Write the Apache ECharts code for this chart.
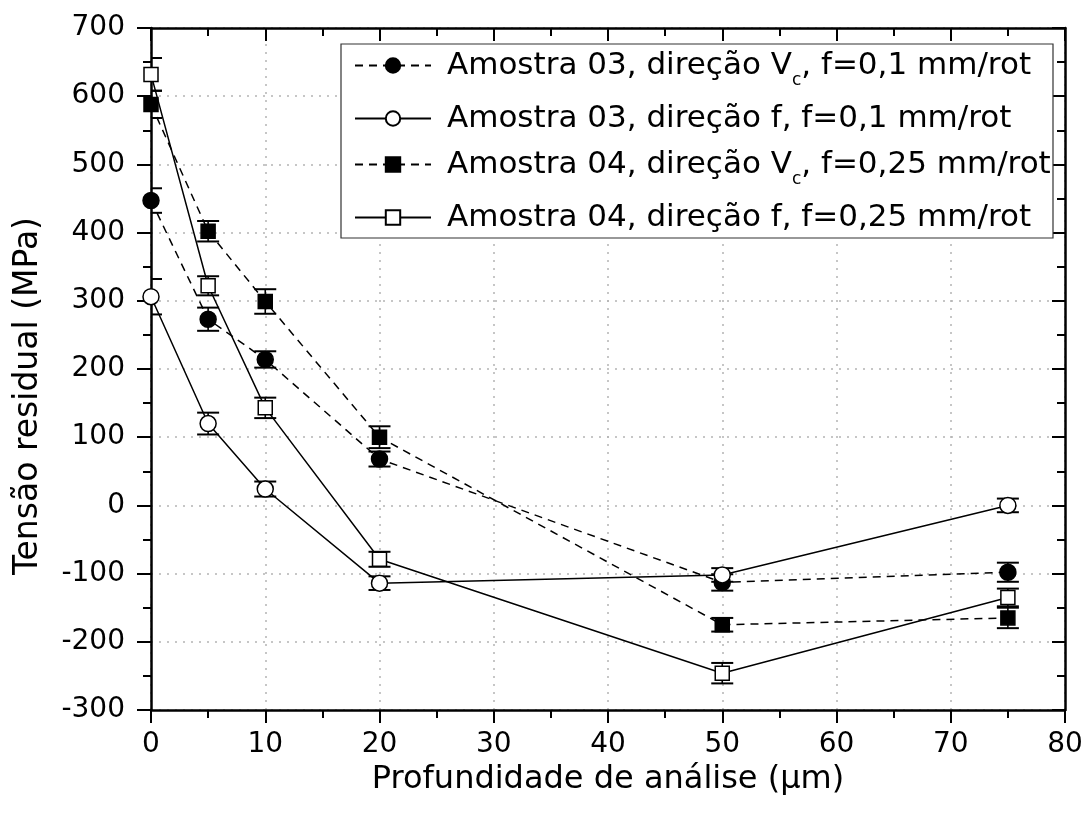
<!DOCTYPE html>
<html>
<head>
<meta charset="utf-8">
<script src="https://cdn.jsdelivr.net/npm/echarts@6/dist/echarts.min.js"></script>
<style>
  html, body { margin: 0; padding: 0; background: #fff; }
  #chart { width: 1091px; height: 823px; }
</style>
</head>
<body>
<div id="chart"></div>
<script>
// Depth below the machined surface (µm)
const depth = [0, 5, 10, 20, 50, 75];

// Residual stress (MPa) and error half-widths for each measurement set
const a03Vc = [447, 273, 214, 68, -113, -98];
const a03VcErr = [18, 17, 12, 11, 12, 14];
const a03f = [306, 120, 24, -114, -102, 0];
const a03fErr = [26, 16, 11, 10, 10, 10];
const a04Vc = [588, 402, 299, 100, -175, -165];
const a04VcErr = [20, 15, 18, 16, 10, 15];
const a04f = [632, 322, 143, -79, -246, -135];
const a04fErr = [24, 14, 15, 11, 15, 13];

const names = [
  'Amostra 03, direção Vc, f=0,1 mm/rot',
  'Amostra 03, direção f, f=0,1 mm/rot',
  'Amostra 04, direção Vc, f=0,25 mm/rot',
  'Amostra 04, direção f, f=0,25 mm/rot'
];

const FONT = 'DejaVu Sans';
const chart = echarts.init(document.getElementById('chart'));

function errData(vals, errs) {
  return depth.map((x, i) => [x, vals[i] - errs[i], vals[i] + errs[i]]);
}

function errorBars(vals, errs) {
  return {
    type: 'custom',
    xAxisIndex: 0,
    yAxisIndex: 0,
    clip: true,
    silent: true,
    z: 1,
    encode: { x: 0, y: [1, 2] },
    data: errData(vals, errs),
    renderItem: function (params, api) {
      const x = api.value(0);
      const lo = api.coord([x, api.value(1)]);
      const hi = api.coord([x, api.value(2)]);
      const hw = 11;
      const st = { stroke: '#000', lineWidth: 1.6 };
      return {
        type: 'group',
        children: [
          { type: 'line', shape: { x1: lo[0], y1: lo[1], x2: hi[0], y2: hi[1] }, style: st },
          { type: 'line', shape: { x1: lo[0] - hw, y1: lo[1], x2: lo[0] + hw, y2: lo[1] }, style: { stroke: '#000', lineWidth: 2 } },
          { type: 'line', shape: { x1: hi[0] - hw, y1: hi[1], x2: hi[0] + hw, y2: hi[1] }, style: { stroke: '#000', lineWidth: 2 } }
        ]
      };
    }
  };
}

function lineSeries(name, vals, symbol, size, filled, dashed) {
  return {
    name: name,
    type: 'line',
    xAxisIndex: 0,
    yAxisIndex: 0,
    data: depth.map((x, i) => [x, vals[i]]),
    symbol: symbol,
    symbolSize: size,
    showAllSymbol: true,
    z: 3,
    lineStyle: { color: '#000', width: 1.5, type: dashed ? [8, 6] : 'solid' },
    itemStyle: {
      color: filled ? '#000' : '#fff',
      borderColor: '#000',
      borderWidth: 1.5
    },
    emphasis: { disabled: true },
    animation: false
  };
}

const legendRich = {
  sub: { fontFamily: FONT, fontSize: 17, color: '#000', padding: [30, 0, 0, 0] }
};
const legendTops = [50, 103, 149, 202];
const legends = names.map((n, i) => ({
  data: [n],
  left: 354,
  top: legendTops[i],
  padding: 0,
  itemWidth: 76,
  itemHeight: 18,
  selectedMode: false,
  z: 6,
  formatter: function (name) { return name.replace('Vc', 'V{sub|c}'); },
  textStyle: {
    fontFamily: FONT, fontSize: 31, color: '#000',
    padding: [0, 0, 0, 11],
    rich: legendRich
  }
}));

const axisLineStyle = { color: '#000', width: 2.5 };
const labelStyle = { fontFamily: FONT, fontSize: 28, color: '#000' };

chart.setOption({
  backgroundColor: '#fff',
  animation: false,
  grid: { left: 151, right: 26, top: 28, bottom: 113, outerBoundsMode: 'none' },
  legend: legends,
  graphic: [{
    type: 'rect',
    shape: { x: 341, y: 44, width: 712, height: 194 },
    style: { fill: '#fff', stroke: '#333', lineWidth: 1.2 },
    z: 5
  }],
  xAxis: [{
    type: 'value',
    position: 'bottom',
    min: 0, max: 80, interval: 10,
    name: 'Profundidade de análise (\u03bcm)',
    nameLocation: 'middle',
    nameGap: 52,
    nameTextStyle: { fontFamily: FONT, fontSize: 32, color: '#000' },
    axisLine: { onZero: false, lineStyle: axisLineStyle },
    axisTick: { show: true, inside: false, length: 13, lineStyle: { color: '#000', width: 2 } },
    minorTick: { show: true, splitNumber: 2, length: 8, lineStyle: { color: '#000', width: 2 } },
    axisLabel: Object.assign({ margin: 21 }, labelStyle),
    splitLine: { show: true, lineStyle: { color: '#b4b4b4', width: 1.5, type: [2, 6] } }
  }, {
    type: 'value',
    position: 'top',
    min: 0, max: 80, interval: 10,
    axisLine: { onZero: false, lineStyle: axisLineStyle },
    axisTick: { show: true, inside: true, length: 13, lineStyle: { color: '#000', width: 2 } },
    minorTick: { show: true, splitNumber: 2, length: 8, lineStyle: { color: '#000', width: 2 } },
    axisLabel: { show: false },
    splitLine: { show: false }
  }],
  yAxis: [{
    type: 'value',
    position: 'left',
    min: -300, max: 700, interval: 100,
    name: 'Tensão residual (MPa)',
    nameLocation: 'middle',
    nameGap: 106,
    nameTextStyle: { fontFamily: FONT, fontSize: 33, color: '#000', padding: [0, 54, 0, 0] },
    axisLine: { onZero: false, lineStyle: axisLineStyle },
    axisTick: { show: true, inside: false, length: 14, lineStyle: { color: '#000', width: 2 } },
    minorTick: { show: true, splitNumber: 2, length: 8, lineStyle: { color: '#000', width: 2 } },
    axisLabel: Object.assign({ margin: 26 }, labelStyle),
    splitLine: { show: true, lineStyle: { color: '#b4b4b4', width: 1.5, type: [2, 6] } }
  }, {
    type: 'value',
    position: 'right',
    min: -300, max: 700, interval: 100,
    axisLine: { onZero: false, lineStyle: axisLineStyle },
    axisTick: { show: true, inside: true, length: 13, lineStyle: { color: '#000', width: 2 } },
    minorTick: { show: true, splitNumber: 2, length: 8, lineStyle: { color: '#000', width: 2 } },
    axisLabel: { show: false },
    splitLine: { show: false }
  }],
  series: [
    errorBars(a03Vc, a03VcErr),
    errorBars(a03f, a03fErr),
    errorBars(a04Vc, a04VcErr),
    errorBars(a04f, a04fErr),
    lineSeries(names[0], a03Vc, 'circle', 16, true, true),
    lineSeries(names[1], a03f, 'circle', 16, false, false),
    lineSeries(names[2], a04Vc, 'rect', 14, true, true),
    lineSeries(names[3], a04f, 'rect', 14, false, false)
  ]
});
</script>
</body>
</html>
